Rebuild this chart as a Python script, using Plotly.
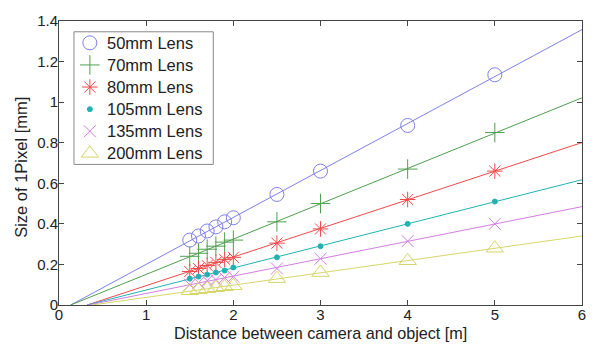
import numpy as np
import plotly.graph_objects as go

distance_m = [1.5, 1.6, 1.7, 1.8, 1.9, 2.0, 2.5, 3.0, 4.0, 5.0]

lens_names = ["50mm Lens", "70mm Lens", "80mm Lens", "105mm Lens", "135mm Lens", "200mm Lens"]

pix_50 = [0.32, 0.34, 0.365, 0.385, 0.41, 0.43, 0.545, 0.66, 0.885, 1.135]
pix_70 = [0.24, 0.255, 0.275, 0.29, 0.31, 0.32, 0.41, 0.50, 0.67, 0.85]
pix_80 = [0.165, 0.18, 0.195, 0.21, 0.225, 0.235, 0.305, 0.375, 0.52, 0.66]
pix_105 = [0.13, 0.14, 0.15, 0.16, 0.17, 0.185, 0.235, 0.29, 0.40, 0.51]
pix_135 = [0.10, 0.11, 0.12, 0.125, 0.135, 0.14, 0.18, 0.228, 0.315, 0.40]
pix_200 = [0.07, 0.075, 0.08, 0.085, 0.09, 0.095, 0.13, 0.16, 0.218, 0.28]

series = [pix_50, pix_70, pix_80, pix_105, pix_135, pix_200]

x_title = "Distance between camera and object [m]"
y_title = "Size of 1Pixel [mm]"

colors = ["#7f7fea", "#4f9f4f", "#f04a4a", "#22b2b2", "#d27ee0", "#d6d66a"]
symbols = ["circle-open", "cross-thin-open", "asterisk-open", "circle", "x-thin-open", "triangle-up-open"]
sizes = [14, 14, 13, 5, 12, 15]

x_max = 6.0
FONT = "Liberation Sans, Arial"
TXT = "#222222"

fig = go.Figure()
for name, ys, col, sym, sz in zip(lens_names, series, colors, symbols, sizes):
    slope, icpt = np.polyfit(distance_m, ys, 1)
    x0 = -icpt / slope
    fig.add_trace(go.Scatter(
        x=[x0, x_max], y=[0, slope * x_max + icpt], mode="lines",
        line=dict(color=col, width=1), showlegend=False, hoverinfo="skip"))
    fig.add_trace(go.Scatter(
        x=distance_m, y=ys, mode="markers", name=name, showlegend=False,
        marker=dict(symbol=sym, size=sz, color=col, line=dict(color=col, width=1))))

# hand-built legend (box, markers on an overlay 0..1 axis, text labels)
leg_left, leg_right, leg_top, leg_bottom = 0.0286, 0.295, 0.962, 0.495
leg_step = (leg_top - leg_bottom) / len(lens_names)
leg_marker_x = 0.059
leg_text_x = 0.088
fig.add_shape(type="rect", xref="x2", yref="y2", x0=leg_left, x1=leg_right,
              y0=leg_bottom, y1=leg_top, line=dict(color="#888888", width=1),
              fillcolor="white", layer="below")
for i, (name, col, sym, sz) in enumerate(zip(lens_names, colors, symbols, sizes)):
    yy = leg_top - leg_step * (i + 0.5)
    fig.add_trace(go.Scatter(
        x=[leg_marker_x], y=[yy], xaxis="x2", yaxis="y2", mode="markers",
        showlegend=False, hoverinfo="skip",
        marker=dict(symbol=sym, size=sz, color=col, line=dict(color=col, width=1))))
    fig.add_annotation(x=leg_text_x, y=yy, xref="x2", yref="y2", text=name,
                       showarrow=False, xanchor="left", yanchor="middle",
                       font=dict(family=FONT, size=16.5, color=TXT))

# axis titles as annotations (placed like the reference)
fig.add_annotation(x=0.5, y=-0.097, xref="paper", yref="paper", text=x_title,
                   showarrow=False, xanchor="center", yanchor="middle",
                   font=dict(family=FONT, size=16.2, color=TXT))
fig.add_annotation(x=-0.074, y=0.484, xref="paper", yref="paper", text=y_title,
                   textangle=-90, showarrow=False, xanchor="center", yanchor="middle",
                   font=dict(family=FONT, size=16.5, color=TXT))

axis_common = dict(
    showgrid=False, zeroline=False, showline=True, linecolor="#444444", linewidth=1,
    mirror="allticks", ticks="inside", ticklen=5, tickcolor="#444444",
    tickfont=dict(family=FONT, size=15, color=TXT),
)

fig.update_xaxes(range=[0, 6], dtick=1, ticklabelstandoff=-4, **axis_common)
fig.update_yaxes(range=[0, 1.4], dtick=0.2, ticklabelstandoff=-3, **axis_common)

fig.update_layout(
    width=598, height=344,
    margin=dict(l=59, r=14, t=16, b=39),
    paper_bgcolor="white", plot_bgcolor="white",
    showlegend=False,
    xaxis2=dict(overlaying="x", range=[0, 1], visible=False),
    yaxis2=dict(overlaying="y", range=[0, 1], visible=False),
)

fig.write_html("out.html", config={"displayModeBar": False},
               post_script="document.body.style.margin='0';document.body.style.overflow='hidden';")
